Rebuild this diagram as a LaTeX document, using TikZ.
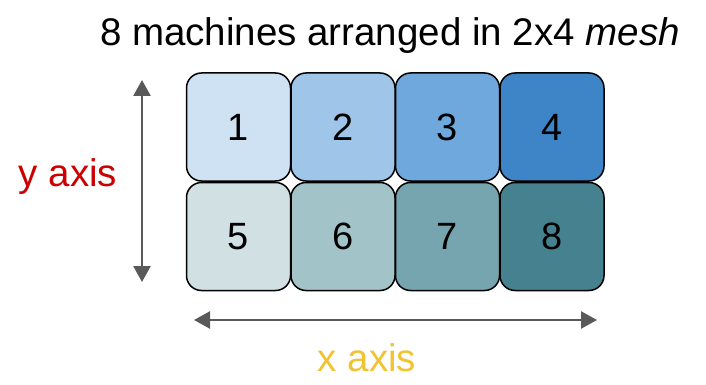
\documentclass[tikz,border=0pt]{standalone}
\usepackage{fontspec}
\setmainfont{Liberation Sans}
\usetikzlibrary{arrows.meta}
\definecolor{c1}{HTML}{CFE2F3}
\definecolor{c2}{HTML}{9FC5E8}
\definecolor{c3}{HTML}{6FA8DC}
\definecolor{c4}{HTML}{3D85C6}
\definecolor{c5}{HTML}{D0E0E3}
\definecolor{c6}{HTML}{A2C4C9}
\definecolor{c7}{HTML}{76A5AF}
\definecolor{c8}{HTML}{45818E}
\definecolor{axisgray}{HTML}{595959}
\definecolor{yred}{HTML}{CC0000}
\definecolor{xyellow}{HTML}{F1C232}
\begin{document}
\begin{tikzpicture}[x=1pt,y=-1pt,
  machine/.style={draw=black,line width=1.5pt,rounded corners=15pt,minimum width=104pt,minimum height=108pt,inner sep=0pt,font=\fontsize{38}{42}\selectfont},
  axisarrow/.style={draw=axisgray,line width=2.5pt,{Triangle[length=16pt,width=17pt]}-{Triangle[length=16pt,width=17pt]}},
  lbl/.style={inner sep=0pt,font=\fontsize{38.5}{44}\selectfont}]
\useasboundingbox (0,0) rectangle (706,385);
\node[lbl] (title) at (390,36) {8 machines arranged in 2x4 \textit{mesh}};
\node[machine,fill=c1] (b1) at (238.5,127) {1};
\node[machine,fill=c2] (b2) at (343,127) {2};
\node[machine,fill=c3] (b3) at (447.5,127) {3};
\node[machine,fill=c4] (b4) at (552,127) {4};
\node[machine,fill=c5] (b5) at (238.5,236.5) {5};
\node[machine,fill=c6] (b6) at (343,236.5) {6};
\node[machine,fill=c7] (b7) at (447.5,236.5) {7};
\node[machine,fill=c8] (b8) at (552,236.5) {8};
\coordinate (ytop) at (142,80);
\coordinate (ybot) at (142,282);
\coordinate (xl) at (194,320);
\coordinate (xr) at (597,320);
\draw[axisarrow] (ytop) -- (ybot);
\draw[axisarrow] (xl) -- (xr);
\node[lbl,text=yred] (ylab) at (68,177) {y axis};
\node[lbl,text=xyellow] (xlab) at (367,358) {x axis};
\end{tikzpicture}
\end{document}
